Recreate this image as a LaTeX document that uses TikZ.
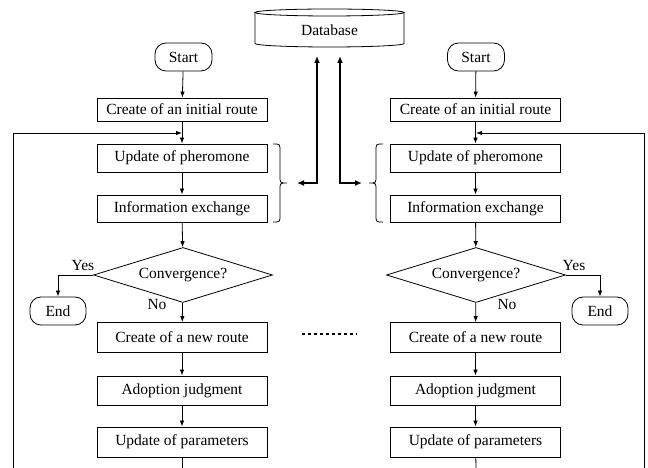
\documentclass[tikz,border=0pt]{standalone}
\usepackage{fontspec}
\newfontfamily\tnr{Liberation Serif}
\newcommand{\flowfont}{\tnr\fontsize{15.5}{18}\selectfont}
\usetikzlibrary{shapes.geometric,arrows.meta}
\tikzset{
  lab/.style={font=\flowfont, inner sep=1pt},
  box/.style={lab, draw, line width=0.8pt, minimum width=170pt, minimum height=28pt, inner sep=0pt},
  term/.style={lab, draw, line width=0.8pt, rounded corners=11pt, minimum width=57pt, minimum height=28pt, inner sep=0pt},
  cond/.style={lab, draw, diamond, aspect=3.25, line width=0.8pt, minimum width=179pt, minimum height=55pt, inner sep=0pt},
  flow/.style={line width=0.8pt, -{Latex[length=6pt,width=4.5pt]}},
  link/.style={line width=2pt, {Latex[length=7pt,width=6pt]}-{Latex[length=7pt,width=6pt]}},
  brc/.style={line width=0.8pt},
}
\begin{document}
\begin{tikzpicture}[x=1pt, y=1pt]
      \useasboundingbox (0,0) rectangle (648,468);
      % shared database
      \node (db) at (329.5,438) [lab, minimum width=149pt, minimum height=38pt] {Database};
      \draw [line width=0.8pt] (329.5,455.5) ellipse [x radius=74.5, y radius=3.5];
      \draw [line width=0.8pt] (255,455.5) -- (255,424.5)
        arc [start angle=180, end angle=360, x radius=74.5, y radius=3.5] -- (404,455.5);
      % left colony
      \node (s1) at (183.5,411) [term] {Start};
      \node (i1) at (182,358.5) [box, minimum height=23pt] {Create of an initial route};
      \node (p1) at (182,310) [box] {Update of pheromone};
      \node (x1) at (182,259.5) [box, minimum height=27pt] {Information exchange};
      \node (c1) at (183,193) [cond] {Convergence?};
      \node (e1) at (58,157) [term, minimum width=56pt] {End};
      \node (n1) at (182,130.5) [box, minimum height=30pt] {Create of a new route};
      \node (a1) at (182,77.5) [box, minimum height=29pt] {Adoption judgment};
      \node (u1) at (182,26) [box, minimum height=30pt] {Update of parameters};
      \node (y1) at (83,202) [lab] {Yes};
      \node (o1) at (157,163) [lab] {No};
      % right colony
      \node (s2) at (476,411) [term] {Start};
      \node (i2) at (475.5,358.5) [box, minimum height=23pt] {Create of an initial route};
      \node (p2) at (475.5,310) [box] {Update of pheromone};
      \node (x2) at (475.5,259.5) [box, minimum height=27pt] {Information exchange};
      \node (c2) at (476,193) [cond] {Convergence?};
      \node (e2) at (600,157) [term, minimum width=56pt] {End};
      \node (n2) at (475.5,130.5) [box, minimum height=30pt] {Create of a new route};
      \node (a2) at (475.5,77.5) [box, minimum height=29pt] {Adoption judgment};
      \node (u2) at (475.5,26) [box, minimum height=30pt] {Update of parameters};
      \node (y2) at (574,202) [lab] {Yes};
      \node (o2) at (507,163) [lab] {No};
      % loose ends
      \coordinate (j1) at (182,335);
      \coordinate (j2) at (476,335);
      \coordinate (z1) at (182,0);
      \coordinate (z2) at (476,0);
      \coordinate (l1) at (13,0);
      \coordinate (l2) at (644,0);
      \coordinate (d1) at (317,412);
      \coordinate (d2) at (340,412);
      \coordinate (b1) at (297,285);
      \coordinate (b2) at (362,285);
      \coordinate (m1) at (302,134);
      \coordinate (m2) at (357,134);
      % left flow
      \draw [flow] (s1) -- (i1);
      \draw [flow] (i1) -- (p1);
      \draw [flow] (p1) -- (x1);
      \draw [flow] (x1) -- (c1);
      \draw [flow] (c1) -- (n1);
      \draw [flow] (c1.west) -| (e1);
      \draw [flow] (n1) -- (a1);
      \draw [flow] (a1) -- (u1);
      \draw [line width=0.8pt] (u1) -- (z1);
      \draw [flow] (l1) |- (j1);
      % right flow
      \draw [flow] (s2) -- (i2);
      \draw [flow] (i2) -- (p2);
      \draw [flow] (p2) -- (x2);
      \draw [flow] (x2) -- (c2);
      \draw [flow] (c2) -- (n2);
      \draw [flow] (c2.east) -| (e2);
      \draw [flow] (n2) -- (a2);
      \draw [flow] (a2) -- (u2);
      \draw [line width=0.8pt] (u2) -- (z2);
      \draw [flow] (l2) |- (j2);
      % braces, drawn by hand
      \draw [brc] (273,324) .. controls (280,324) .. (280,317) -- (280,292)
        .. controls (280,285) .. (287,285) .. controls (280,285) .. (280,278)
        -- (280,253) .. controls (280,246) .. (273,246);
      \draw [brc] (383,324) .. controls (376,324) .. (376,317) -- (376,292)
        .. controls (376,285) .. (369,285) .. controls (376,285) .. (376,278)
        -- (376,253) .. controls (376,246) .. (383,246);
      % exchange with the database
      \draw [link] (d1) |- (b1);
      \draw [link] (d2) |- (b2);
      \draw [line width=2.5pt, dash pattern=on 2.5pt off 3.5pt] (m1) -- (m2);
    \end{tikzpicture}
\end{document}
